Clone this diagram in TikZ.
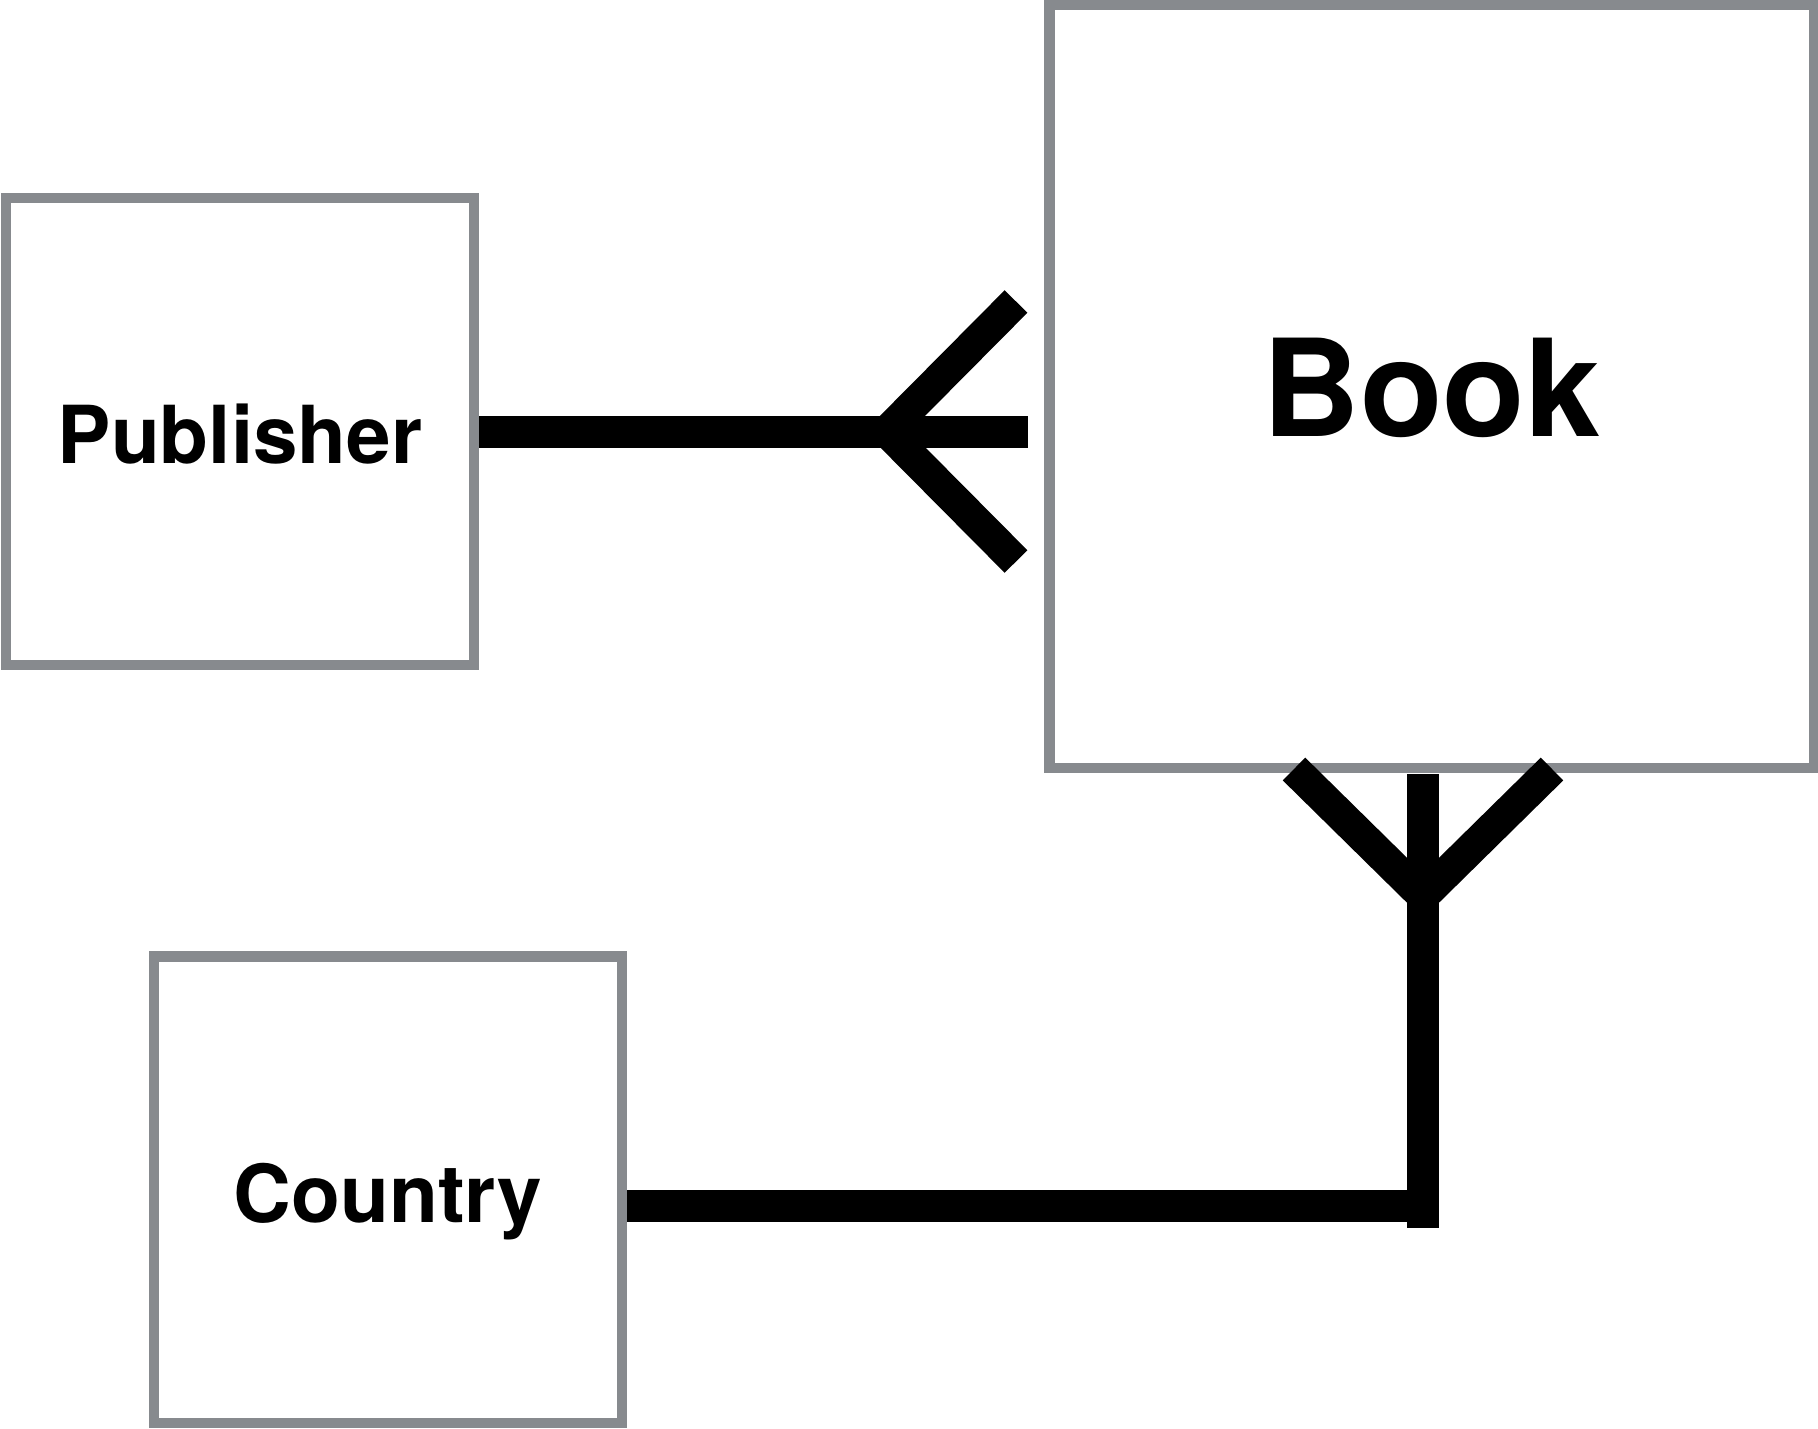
\documentclass[tikz,border=0pt]{standalone}
\usepackage{fontspec}
\setmainfont{TeX Gyre Heros}
\definecolor{boxgray}{HTML}{878A8E}
\begin{document}
\begin{tikzpicture}[x=1pt,y=-1pt,
  entity/.style={draw=boxgray,line width=10.5pt,fill=white,rectangle,inner sep=0pt,
    text depth=0pt,font=\bfseries},
  conn/.style={line width=32pt,line cap=butt,black}]
\useasboundingbox (0,0) rectangle (1818,1428);
\fill[white] (0,0) rectangle (1818,1428);
% entities
\node[entity,minimum width=468pt,minimum height=467pt,text height=63pt,
  font=\bfseries\fontsize{80}{90}\selectfont] (pub) at (240,431.5) {Publisher};
\node[entity,minimum width=764.5pt,minimum height=763.5pt,text height=99.5pt,
  font=\bfseries\fontsize{135}{150}\selectfont] (book) at (1431.5,386.25) {Book};
\node[entity,minimum width=468pt,minimum height=466.5pt,text height=66pt,
  font=\bfseries\fontsize{80}{90}\selectfont] (country) at (388,1189.75) {Country};
% connector Publisher -- Book (crow's foot at Book)
\coordinate (pbend) at (1028,431.5);
\coordinate (pbv) at (887,431.5);
\coordinate (pbu) at (1016,301.5);
\coordinate (pbl) at (1016,561.5);
\draw[conn] (pub.east) -- (pbend);
\draw[conn,line join=miter] (pbu) -- (pbv) -- (pbl);
% connector Country -- Book (crow's foot at Book)
\coordinate (cbtop) at (1423,774);
\coordinate (cbbot) at (1423,1228);
\coordinate (cbcorner) at (1407,1206);
\coordinate (cbv) at (1423,896);
\coordinate (cbl) at (1294,769);
\coordinate (cbr) at (1552,769);
\draw[conn] (country.east |- cbcorner) -- (cbcorner);
\draw[conn] (cbtop) -- (cbbot);
\draw[conn,line join=miter] (cbl) -- (cbv) -- (cbr);
\end{tikzpicture}
\end{document}
